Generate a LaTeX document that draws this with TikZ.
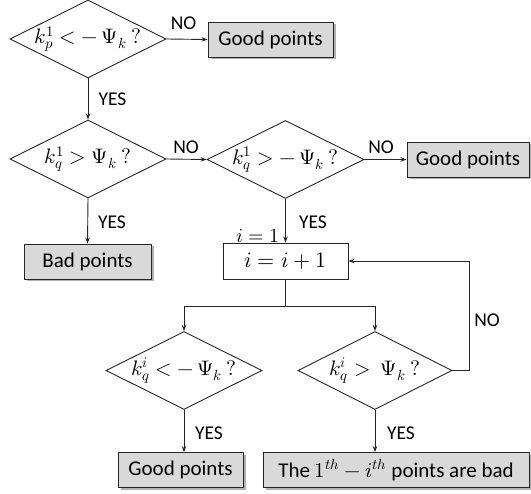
\documentclass[tikz,border=0pt]{standalone}
\usepackage{fontspec}
\usepackage{unicode-math}
\setmainfont{Carlito}
\setmathfont{Latin Modern Math}
\usetikzlibrary{shapes.geometric,shadows,arrows.meta}
\definecolor{boxgray}{RGB}{217,217,217}
\tikzset{
  every picture/.style={x=1pt,y=-1pt},
  line/.style={draw=black!85,line width=0.9pt},
  arr/.style={line,-{Stealth[length=6pt,width=4.5pt]}},
  dia/.style={diamond,draw=black!85,line width=0.9pt,inner sep=0pt,minimum width=#1,minimum height=78pt},
  dtext/.style={font=\fontsize{21}{25}\selectfont,inner sep=0pt},
  res/.style={rectangle,draw=black!85,line width=0.9pt,fill=boxgray,inner sep=0pt,minimum height=35pt,
    font=\fontsize{21}{25}\selectfont,
    drop shadow={shadow xshift=2.5pt,shadow yshift=-2.5pt,fill=black,opacity=0.3}},
  plain/.style={rectangle,draw=black!85,line width=0.9pt,fill=white,inner sep=0pt,minimum height=36pt,
    font=\fontsize{22}{26}\selectfont},
  lbl/.style={font=\fontsize{19.5}{22}\selectfont,inner sep=0pt}
}
\begin{document}
\begin{tikzpicture}
\useasboundingbox (0,0) rectangle (531,494);
% diamonds
\node[dia=156pt,label={[dtext]center:$k_p^1 < -\,\Psi_k\ ?$}] (d1) at (88,39) {};
\node[dia=156pt,label={[dtext]center:$k_q^1 > \Psi_k\ ?$}] (d2) at (88,159) {};
\node[dia=157pt,label={[dtext]center:$k_q^1 > -\,\Psi_k\ ?$}] (d3) at (285.5,159.5) {};
\node[dia=156pt,label={[dtext]center:$k_q^i < -\,\Psi_k\ ?$}] (d4) at (184,370.5) {};
\node[dia=154pt,label={[dtext]center:$k_q^i >\ \Psi_k\ ?$}] (d5) at (375,370.5) {};
% boxes
\node[res,minimum width=125pt] (g1) at (270.5,39.5) {Good points};
\node[res,minimum width=122pt] (g2) at (468,159.5) {Good points};
\node[res,minimum width=127pt] (b1) at (87.5,261.5) {Bad points};
\node[plain,minimum width=125pt] (ib) at (285.5,261) {$i = i + 1$};
\node[res,minimum width=125pt] (g3) at (180.5,470) {Good points};
\node[res,minimum width=266pt] (b2) at (396,470) {The $1^{th} - i^{th}$ points are bad};
% connectors
\draw[arr] (d1.east) -- (g1.west);
\draw[arr] (d1.south) -- (d2.north);
\draw[arr] (d2.east) -- (d3.west);
\draw[arr] (d3.east) -- (g2.west);
\draw[arr] (d2.south) -- (b1.north);
\draw[arr] (d3.south) -- (ib.north);
\coordinate (br) at (285.5,306);
\draw[line] (ib.south) -- (br);
\draw[arr] (br) -| (d4.north);
\draw[arr] (br) -| (d5.north);
\draw[arr] (d4.south) -- (d4.south |- g3.north);
\draw[arr] (d5.south) -- (d5.south |- b2.north);
\coordinate (lp) at (469.5,370.5);
\draw[arr] (d5.east) -- (lp) |- (ib.east);
% labels
\node[lbl] (n1) at (183.5,23) {NO};
\node[lbl] (y1) at (112.5,99) {YES};
\node[lbl] (n2) at (186,147) {NO};
\node[lbl] (n3) at (381,147) {NO};
\node[lbl] (y2) at (112,222) {YES};
\node[lbl] (y3) at (313,222) {YES};
\node[inner sep=0pt,font=\fontsize{20}{24}\selectfont] (i1) at (258,236) {$i=1$};
\node[lbl] (n4) at (487,320) {NO};
\node[lbl] (y4) at (209,433) {YES};
\node[lbl] (y5) at (401,433) {YES};
\end{tikzpicture}
\end{document}
